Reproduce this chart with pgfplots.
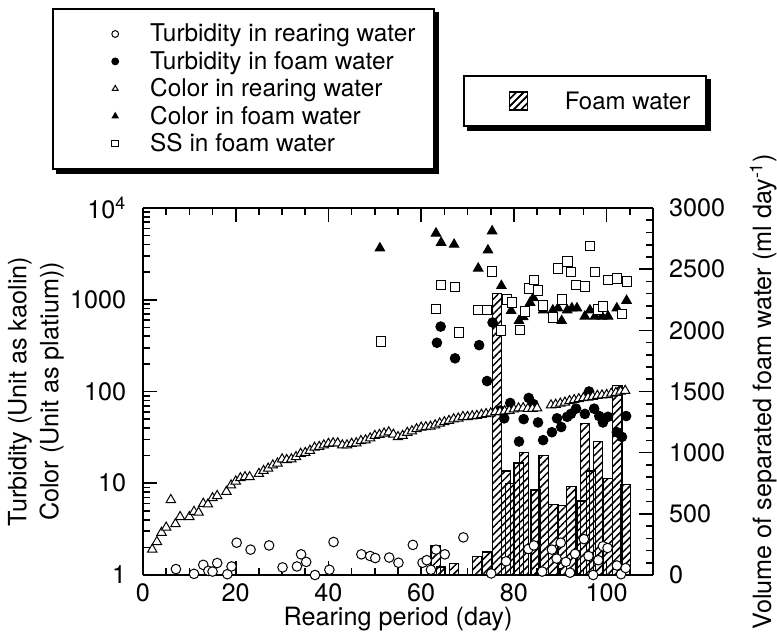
\documentclass[border=0pt]{standalone}
\usepackage{fontspec}
\setmainfont{TeX Gyre Heros}
\usepackage{pgfplots}
\pgfplotsset{compat=1.18}
\usetikzlibrary{patterns.meta}

% daily volume of separated foam water (ml/day)
\pgfplotstableread{
day vol
63.1 240
64.3 65
67.1 95
72.0 150
74.2 188
76.3 2300
78.3 850
79.2 745
81.0 915
82.2 1000
84.7 695
86.4 975
88.5 575
90.4 570
92.4 725
94.6 605
95.3 1240
96.6 850
98.1 1090
100.2 790
102.3 1550
104.1 740
}\foamvol

\tikzset{
  hatch/.style={draw=black, line width=0.6pt, fill=white,
    postaction={pattern={Lines[angle=45,distance=2.6pt,line width=0.75pt]}}},
}

\pgfplotsset{
  common/.style={
    scale only axis, width=255pt, height=183.5pt,
    xmin=0, xmax=110,
    tick align=inside,
    major tick length=7pt, minor tick length=3.5pt,
    every tick/.style={black, line width=0.8pt},
    axis line style={line width=1pt},
    legend cell align=left,
  },
}

% solid offset shadow below and right of a named legend box
\newcommand\boxshadow[1]{%
  \ifcsname pgf@sh@ns@#1\endcsname
    \fill[black] ([xshift=2pt]#1.south west) rectangle ([xshift=2pt,yshift=-2pt]#1.south east);
    \fill[black] ([yshift=-2pt]#1.north east) rectangle ([xshift=2pt]#1.south east);
  \fi}

\begin{document}
\fontsize{12.6}{15}\selectfont
\begin{tikzpicture}
% right axis: foam water volume (bars)
\begin{axis}[common,
  ymin=0, ymax=3000,
  axis x line=none, axis y line*=right,
  ytick={0,500,...,3000},
  yticklabels={0,500,1000,1500,2000,2500,3000},
  minor ytick={100,200,300,400,600,700,800,900,1100,1200,1300,1400,1600,1700,1800,1900,2100,2200,2300,2400,2600,2700,2800,2900},
  yticklabel style={xshift=3.7pt},
  ylabel={Volume of separated foam water (ml day\textsuperscript{-1})},
  every axis y label/.style={at={(axis description cs:1.216,0.5)}, rotate=90, anchor=center},
  ybar, bar width=2,
  legend style={name=legB, at={(axis description cs:0.627,1.3624)}, anchor=north west,
    draw=black, line width=1pt, fill=white,
    font=\fontsize{12}{14}\selectfont,
    inner xsep=8pt, inner ysep=6.5pt,
    nodes={inner sep=0pt, text height=10pt, text depth=2pt},
    /tikz/every odd column/.append style={column sep=9.5pt}},
  legend image code/.code={%
    \pgfpathrectangle{\pgfpointorigin}{\pgfpoint{33pt}{0pt}}\pgfusepath{use as bounding box}%
    \draw[hatch] (15pt,-4.5pt) rectangle (24pt,4.5pt);},
]
\addplot[hatch, bar shift=0pt] table[x=day, y=vol] {\foamvol};
\addlegendentry{Foam water}
\end{axis}

% left axis: turbidity and color (log scale)
\begin{axis}[common,
  ymode=log, ymin=1, ymax=10000,
  axis y line*=left,
  clip=false,
  xtick={0,20,40,60,80,100},
  xticklabels={0,20,40,60,80,100},
  minor xtick={5,10,15,25,30,35,45,50,55,65,70,75,85,90,95,105},
  ytick={1,10,100,1000,10000},
  yticklabels={1,10,100,1000,10\textsuperscript{4}},
  minor ytick={2,3,4,5,6,7,8,9,20,30,40,50,60,70,80,90,200,300,400,500,600,700,800,900,2000,3000,4000,5000,6000,7000,8000,9000},
  yticklabel style={xshift=-4pt},
  xlabel={Rearing period (day)},
  every axis x label/.style={at={(axis description cs:0.5,-0.12)}, anchor=center},
  ylabel={Turbidity (Unit as kaolin)\\Color (Unit as platium))},
  every axis y label/.style={at={(axis description cs:-0.21,0.5)}, rotate=90, anchor=center, align=center, font=\fontsize{12.6}{16}\selectfont},
  legend style={name=legA, at={(axis description cs:-0.178,1.545)}, anchor=north west,
    draw=black, line width=1pt, fill=white,
    font=\fontsize{12.2}{14}\selectfont,
    inner xsep=9pt, inner ysep=6.5pt, row sep=1.7pt,
    nodes={inner sep=0pt, text height=10pt, text depth=2pt},
    /tikz/every odd column/.append style={column sep=15.5pt}},
  legend image code/.code={%
    \pgfpathrectangle{\pgfpointorigin}{\pgfpoint{24pt}{0pt}}\pgfusepath{use as bounding box}%
    \draw[#1, mark size=1.7pt, line width=0.5pt] plot coordinates {(22pt,0pt)};},
]
% turbidity in rearing water
\addplot[only marks, mark=*, mark size=2.4pt, mark options={draw=black, fill=white, line width=0.5pt}] coordinates {
(7.1,1.16)(11.0,1.03)(13.0,1.29)(14.1,1.11)(15.0,1.09)(16.0,1.35)(18.2,1.02)(19.1,1.24)
(20.2,2.25)(23.2,1.89)(27.2,2.1)(30.1,1.21)(33.2,1.24)(34.1,1.68)(35.2,1.39)(37.1,1.0)
(40.2,1.14)(41.1,2.29)(47.1,1.68)(49.0,1.61)(50.1,1.53)(53.1,1.55)(55.1,1.36)(58.2,2.13)
(60.3,1.36)(61.2,1.45)(62.1,1.14)(63.2,1.89)(65.1,1.68)(69.1,2.57)(75.1,1.04)(78.3,1.41)
(83.1,1.92)(84.3,2.1)(86.1,1.09)(88.2,1.89)(89.2,1.51)(90.1,2.25)(91.2,1.39)(92.1,1.06)
(93.2,1.7)(95.1,2.46)(96.1,1.61)(97.1,1.0)(98.2,1.45)(99.2,2.06)(100.2,1.97)(102.2,1.27)
(103.1,1.02)(104.1,1.19)
};
\addlegendentry{Turbidity in rearing water}
% turbidity in foam water
\addplot[only marks, mark=*, mark size=2.4pt, mark options={draw=black, fill=black, line width=0.5pt}] coordinates {
(63.4,340)(64.2,510)(67.3,230)(72.5,320)(74.2,130)(75.4,565)(77.1,62)(77.9,51)(79.2,75)
(81.1,28.5)(82.1,50)(83.2,85)(84.2,73)(85.2,46)(86.3,29.5)(88.2,36)(89.3,51)(90.2,41)
(91.5,53)(92.3,57)(93.4,65)(95.3,57)(96.2,100)(97.3,65)(98.4,54)(99.2,46)(100.3,53)
(102.2,36)(103.3,32)(104.2,54)
};
\addlegendentry{Turbidity in foam water}
% color in rearing water
\addplot[only marks, mark=triangle*, mark size=2.7pt, mark options={draw=black, fill=white, line width=0.5pt}] coordinates {
(2,1.9)(3,2.3)(4,2.9)(5,3.3)(6,6.6)(7,3.6)(8,4.3)(10,4.3)(11,4.9)(12,4.8)(13,6.0)(14,5.9)
(15,6.9)(16,7.3)(18,8.1)(19,9.5)(20,10.5)(21,11.4)(22,11.7)(23,11.7)(25,12.7)(26,13.7)
(27,14.5)(28,15.7)(29,16.5)(30,18.3)(31,18)(32,18.3)(33,19.4)(34,21)(35,21.5)(36,22.7)
(37,24.5)(38,25)(39,26)(40,27)(41,27.4)(42,27.4)(43,26)(44,26)(45,27)(46,27.4)(47,29)
(48,29.5)(49,31)(50,33)(51,33.8)(52,35)(53,36)(54,34)(55,32)(56,33)(57,35.6)(58,37)
(59,39)(60,40.6)(61,41)(62,41.5)(63,43)(64,45)(65,46.5)(66,48)(67,50)(68,51)(69,53)
(70,53)(71,54)(72,54.5)(73,56)(74,57)(75,58)(76,60)(77,60)(78,61)(79,62)(80,64)
(81,65.7)(82,66)(83,65)(84,65)(85,66)(88,71)(89,72)(90,74)(91,76)(92,79)(93,81)
(94,83)(95,85)(96,86)(97,88)(98,90)(99,91)(100,92)(101,95)(102,97)(103,100)(104,102)
};
\addlegendentry{Color in rearing water}
% color in foam water
\addplot[only marks, mark=triangle*, mark size=2.7pt, mark options={draw=black, fill=black, line width=0.5pt}] coordinates {
(51.1,3650)(63.2,5300)(64.3,4200)(67.1,4000)(72.3,2200)(74.4,3470)(75.3,5600)(77.3,1420)
(79.4,760)(81.1,590)(82.0,650)(83.5,930)(84.2,1050)(86.3,770)(88.4,770)(89.5,810)
(90.3,590)(91.5,770)(92.5,810)(93.6,810)(95.3,660)(96.4,770)(97.5,660)(99.0,660)
(100.3,660)(102.2,810)(104.3,980)
};
\addlegendentry{Color in foam water}
% suspended solids in foam water
\addplot[only marks, mark=square*, mark size=2.4pt, mark options={draw=black, fill=white, line width=0.5pt}] coordinates {
(51.3,350)(63.2,790)(64.3,1450)(67.3,1380)(68.2,440)(72.3,770)(74.2,770)(75.3,2040)
(77.2,465)(78.5,1000)(79.6,930)(81.3,470)(82.4,750)(83.3,1330)(84.3,1650)(85.2,1260)
(86.3,870)(88.4,640)(89.5,2200)(90.4,1000)(91.5,2600)(92.3,2000)(93.4,1450)(95.3,1400)
(96.4,3870)(97.5,2000)(98.1,780)(99.2,850)(100.3,1650)(102.2,1700)(103.3,700)(104.4,1570)
};
\addlegendentry{SS in foam water}
\end{axis}
\boxshadow{legA}
\boxshadow{legB}
\pgfresetboundingbox
\path[use as bounding box] (-71.5pt,-31.5pt) rectangle (317pt,287.5pt);
\end{tikzpicture}
\end{document}
